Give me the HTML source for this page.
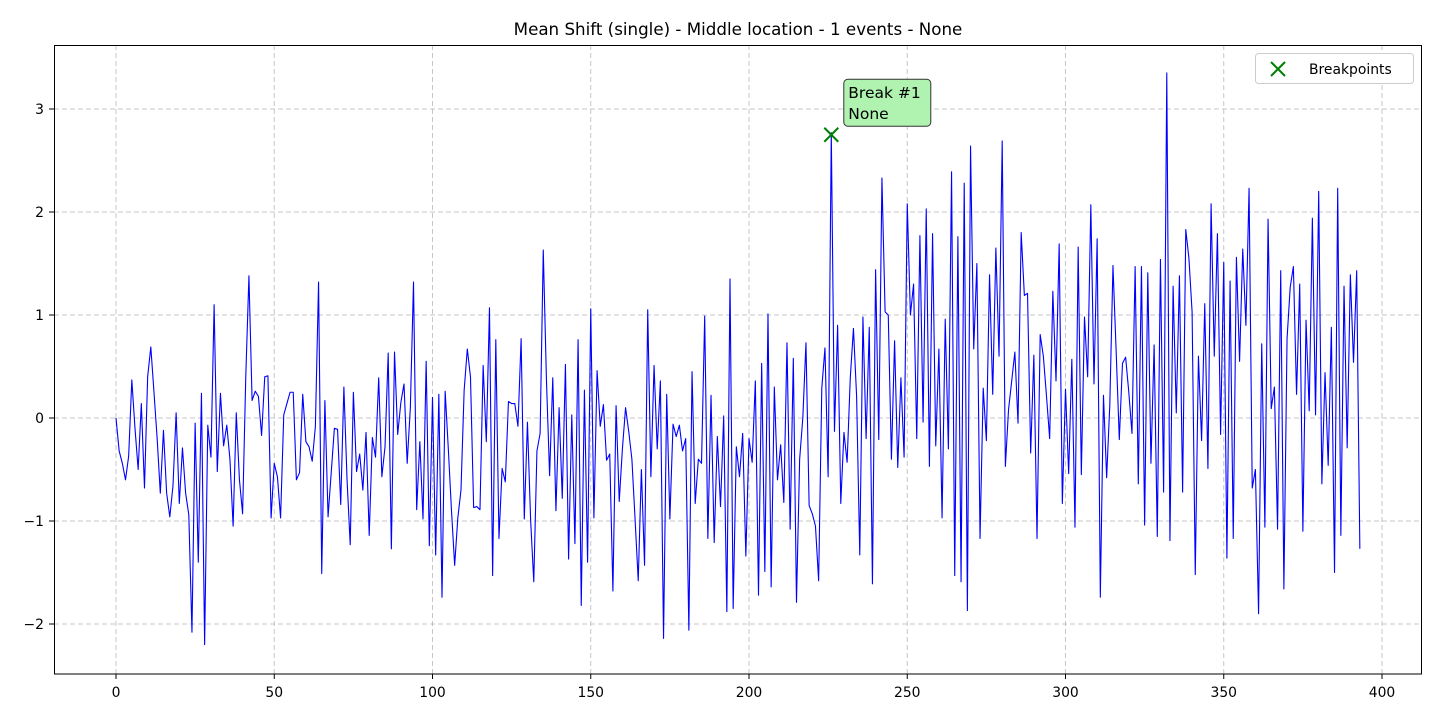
<!DOCTYPE html>
<html><head><meta charset="utf-8">
<style>
html,body{margin:0;padding:0;background:#fff;}
svg{display:block;font-family:"DejaVu Sans","Liberation Sans",sans-serif;}
</style></head>
<body>
<svg id="chart" width="1440" height="720" viewBox="0 0 1440 720">
  <rect x="0" y="0" width="1440" height="720" fill="#fff"/>
  <text x="738" y="35" text-anchor="middle" font-size="16.7" fill="#000">Mean Shift (single) - Middle location - 1 events - None</text>
  <g id="grid"></g>
  <g id="ticks"></g>
  <g id="series"></g>
  <rect x="54.5" y="45.5" width="1367" height="628.5" fill="none" stroke="#000" stroke-width="1"/>
  <g id="annot"></g>
  <g>
    <rect x="1255.5" y="53.5" width="158" height="30" rx="3" fill="#fff" stroke="#ccc"/>
    <g stroke="#008000" stroke-width="2">
      <line x1="1271" y1="62" x2="1285" y2="76"/><line x1="1285" y1="62" x2="1271" y2="76"/>
    </g>
    <text x="1309" y="74" font-size="13.9" fill="#000">Breakpoints</text>
  </g>
</svg>
<script>
const values = [
0,-0.32,-0.44,-0.6,-0.37,0.37,-0.1,-0.5,0.14,-0.68,
0.4,0.69,0.25,-0.2,-0.73,-0.12,-0.73,-0.96,-0.66,0.05,
-0.83,-0.29,-0.73,-0.94,-2.08,-0.05,-1.4,0.24,-2.2,-0.07,
-0.38,1.1,-0.52,0.24,-0.27,-0.07,-0.4,-1.05,0.05,-0.6,
-0.93,0.4,1.38,0.17,0.26,0.21,-0.17,0.4,0.41,-0.97,
-0.44,-0.57,-0.97,0.03,0.14,0.25,0.25,-0.6,-0.53,0.23,
-0.23,-0.28,-0.42,-0.08,1.32,-1.51,0.17,-0.96,-0.53,-0.1,
-0.11,-0.84,0.3,-0.6,-1.23,0.25,-0.52,-0.35,-0.7,-0.14,
-1.14,-0.19,-0.38,0.39,-0.57,-0.28,0.63,-1.27,0.64,-0.16,
0.15,0.33,-0.44,0.1,1.32,-0.89,-0.23,-0.98,0.55,-1.24,
0.2,-1.33,0.23,-1.74,0.26,-0.3,-0.9,-1.43,-0.97,-0.7,
0.27,0.67,0.4,-0.87,-0.86,-0.89,0.51,-0.23,1.07,-1.53,
0.76,-1.17,-0.49,-0.62,0.16,0.14,0.14,-0.08,0.77,-0.98,
-0.04,-0.99,-1.59,-0.32,-0.15,1.63,0.37,-0.56,0.39,-0.9,
0.1,-0.78,0.52,-1.37,0.03,-1.22,0.76,-1.82,0.27,-1.4,
1.06,-0.97,0.46,-0.08,0.13,-0.41,-0.35,-1.68,0.12,-0.81,
-0.3,0.1,-0.13,-0.4,-0.98,-1.58,-0.5,-1.43,1.05,-0.57,
0.51,-0.3,0.36,-2.14,0.23,-0.98,-0.06,-0.18,-0.07,-0.32,
-0.2,-2.06,0.45,-0.83,-0.4,-0.44,0.99,-1.17,0.22,-1.21,
-0.18,-0.86,0.02,-1.88,1.35,-1.85,-0.28,-0.57,-0.15,-1.34,
-0.2,-0.43,0.36,-1.72,0.53,-1.49,1.01,-1.64,0.3,-0.6,
-0.26,-0.82,0.73,-1.08,0.58,-1.79,-0.4,0.0,0.73,-0.85,
-0.93,-1.05,-1.58,0.29,0.68,-0.57,2.77,-0.13,0.9,-0.83,
-0.14,-0.43,0.39,0.87,0.21,-1.33,0.98,-0.2,0.88,-1.61,
1.44,-0.21,2.33,1.03,1.0,-0.4,0.75,-0.48,0.39,-0.38,
2.08,1.0,1.3,-0.2,1.77,-0.04,2.03,-0.47,1.79,-0.27,
0.67,-0.97,0.96,-0.3,2.39,-1.53,1.76,-1.59,2.28,-1.87,
2.64,0.67,1.5,-1.17,0.29,-0.22,1.39,0.23,1.65,0.6,
2.69,-0.47,0.08,0.36,0.64,-0.05,1.8,1.19,1.21,-0.34,
0.61,-1.17,0.81,0.6,0.21,-0.2,1.23,0.36,1.69,-0.83,
0.28,-0.54,0.57,-1.06,1.66,-0.55,0.98,0.4,2.07,0.33,
1.74,-1.74,0.22,-0.58,0.13,1.48,0.65,-0.21,0.53,0.59,
0.25,-0.15,1.47,-0.64,1.47,-1.04,1.41,-0.44,0.71,-1.15,
1.54,-0.72,3.35,-1.19,1.28,0.05,1.38,-0.72,1.83,1.55,
1.03,-1.52,0.6,-0.22,1.11,-0.49,2.08,0.6,1.79,-0.16,
1.51,-1.36,1.33,-1.17,1.56,0.55,1.64,0.9,2.23,-0.68,
-0.5,-1.9,0.72,-1.06,1.93,0.09,0.3,-1.08,1.43,-1.66,
0.77,1.27,1.47,0.23,1.3,-1.1,0.95,0.07,1.94,0.03,
2.2,-0.64,0.44,-0.46,0.88,-1.5,2.23,-1.14,1.28,-0.29,
1.39,0.54,1.43,-1.27
];
const xTicks = [0,50,100,150,200,250,300,350,400];
const yTicks = [-2,-1,0,1,2,3];
const breakIndex = [226];
const breakValue = [2.75];
const breakLabels = ["Break #1","None"];

const NS = "http://www.w3.org/2000/svg";
const X = v => 116 + v * 3.165;
const Y = v => 418 - v * 103;
function mk(tag, attrs, parent){
  const e = document.createElementNS(NS, tag);
  for (const k in attrs) e.setAttribute(k, attrs[k]);
  parent.appendChild(e);
  return e;
}
const grid = document.getElementById('grid');
const ticks = document.getElementById('ticks');
xTicks.forEach(t => {
  const gl = mk('line', {x1:X(t), x2:X(t), y1:45, y2:674, stroke:'#b0b0b0', 'stroke-width':1, 'stroke-dasharray':'5,3', opacity:0.7}, grid);
  
  
  const tk = mk('line', {x1:X(t), x2:X(t), y1:674, y2:679, stroke:'#000'}, ticks);
  
  
  const tx = mk('text', {x:X(t), y:697, 'text-anchor':'middle', 'font-size':13.9, fill:'#000'}, ticks);
  tx.textContent = String(t);
  
  
});
yTicks.forEach(t => {
  const gl = mk('line', {x1:54, x2:1422, y1:Y(t), y2:Y(t), stroke:'#b0b0b0', 'stroke-width':1, 'stroke-dasharray':'5,3', opacity:0.7}, grid);
  
  
  const tk = mk('line', {x1:49, x2:54, y1:Y(t), y2:Y(t), stroke:'#000'}, ticks);
  
  
  const tx = mk('text', {x:44, y:Y(t)+5, 'text-anchor':'end', 'font-size':13.9, fill:'#000'}, ticks);
  tx.textContent = t < 0 ? '\u2212' + Math.abs(t) : String(t);
  
  
});
const series = document.getElementById('series');
const pts = values.map((v,i) => X(i).toFixed(2) + ',' + Y(v).toFixed(2)).join(' ');
const line = mk('polyline', {points:pts, fill:'none', stroke:'#0000ff', 'stroke-width':1.1, 'stroke-linejoin':'round'}, series);



const annot = document.getElementById('annot');
breakIndex.forEach((bi, k) => {
  const cx = X(bi), cy = Y(breakValue[k]);
  const m = mk('g', {stroke:'#008000', 'stroke-width':2}, annot);
  
  
  mk('line', {x1:cx-7, y1:cy-7, x2:cx+7, y2:cy+7}, m);
  mk('line', {x1:cx+7, y1:cy-7, x2:cx-7, y2:cy+7}, m);
  const box = mk('rect', {x:cx+12.5, y:cy-55.5, width:87, height:47, rx:4, fill:'#b0f2b0', stroke:'#333', 'stroke-width':1}, annot);
  
  
  const t1 = mk('text', {x:cx+17, y:cy-37, 'font-size':15.5, fill:'#000'}, annot);
  t1.textContent = breakLabels[0];
  
  
  const t2 = mk('text', {x:cx+17, y:cy-16, 'font-size':15.5, fill:'#000'}, annot);
  t2.textContent = breakLabels[1];
  
  
});
</script>
</body></html>
